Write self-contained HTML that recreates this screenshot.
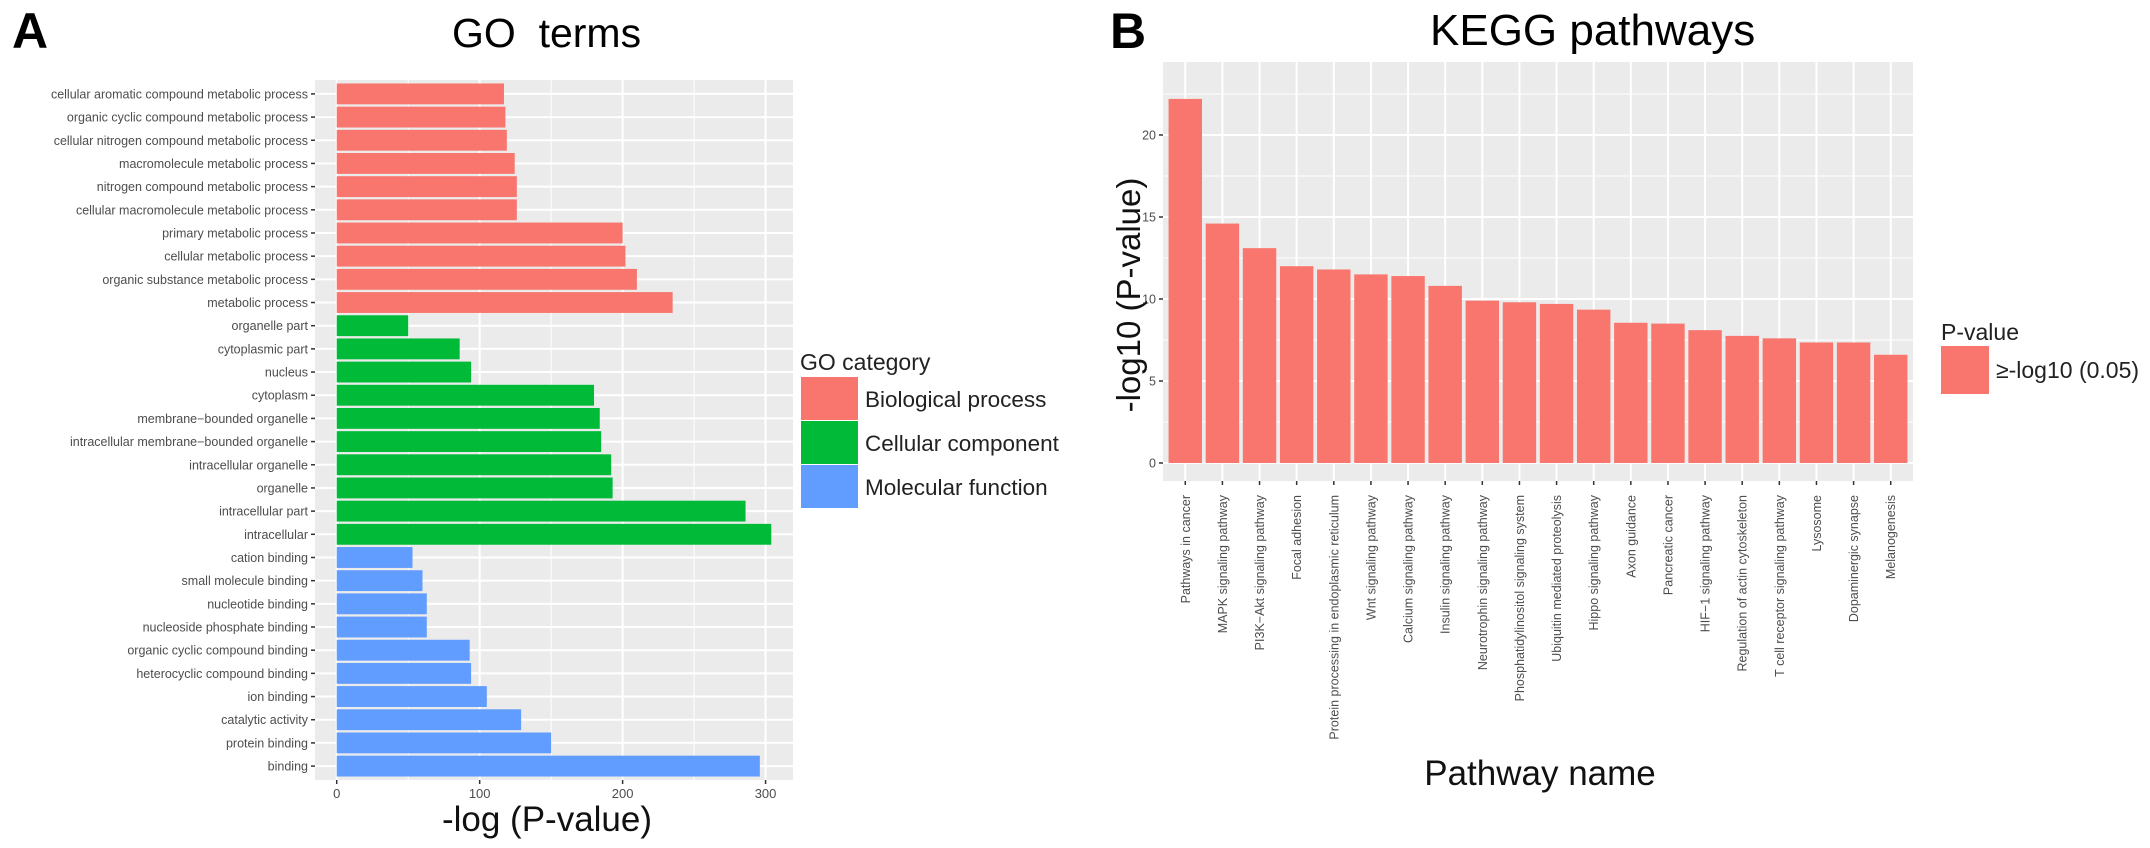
<!DOCTYPE html>
<html><head><meta charset="utf-8"><style>
html,body{margin:0;padding:0;background:#fff;}
svg{display:block;font-family:"Liberation Sans",Arial,sans-serif;}
</style></head><body>
<svg id="chart" width="2150" height="848" viewBox="0 0 2150 848">
<text x="12" y="48" font-size="50" font-weight="bold">A</text>
<text x="452" y="47" font-size="41" xml:space="preserve">GO  terms</text>
<text x="1110" y="48" font-size="50" font-weight="bold">B</text>
<text x="1430" y="45" font-size="44">KEGG pathways</text>
<g id="ga"></g>
<g id="gb"></g>
<g>
<text x="800" y="370" font-size="23" fill="#222">GO category</text>
<rect x="801" y="377" width="57" height="43" fill="#F8766D"/>
<text x="865" y="407" font-size="22.5" fill="#222">Biological process</text>
<rect x="801" y="421" width="57" height="43" fill="#00BA38"/>
<text x="865" y="451" font-size="22.5" fill="#222">Cellular component</text>
<rect x="801" y="465" width="57" height="43" fill="#619CFF"/>
<text x="865" y="495" font-size="22.5" fill="#222">Molecular function</text>
</g>
<g>
<text x="1941" y="340" font-size="23" fill="#222">P-value</text>
<rect x="1941" y="346" width="48" height="48" fill="#F8766D"/>
<text x="1996" y="378" font-size="23" fill="#222">≥-log10 (0.05)</text>
</g>
</svg>
<script>
const goTerms = ["cellular aromatic compound metabolic process","organic cyclic compound metabolic process","cellular nitrogen compound metabolic process","macromolecule metabolic process","nitrogen compound metabolic process","cellular macromolecule metabolic process","primary metabolic process","cellular metabolic process","organic substance metabolic process","metabolic process","organelle part","cytoplasmic part","nucleus","cytoplasm","membrane\u2212bounded organelle","intracellular membrane\u2212bounded organelle","intracellular organelle","organelle","intracellular part","intracellular","cation binding","small molecule binding","nucleotide binding","nucleoside phosphate binding","organic cyclic compound binding","heterocyclic compound binding","ion binding","catalytic activity","protein binding","binding"];
const goValues = [117,118,119,124.5,126,126,200,202,210,235,50,86,94,180,184,185,192,193,286,304,53,60,63,63,93,94,105,129,150,296];
const goCats = ["BP","BP","BP","BP","BP","BP","BP","BP","BP","BP","CC","CC","CC","CC","CC","CC","CC","CC","CC","CC","MF","MF","MF","MF","MF","MF","MF","MF","MF","MF"];
const goTicks = [0,100,200,300];
const keggNames = ["Pathways in cancer","MAPK signaling pathway","PI3K\u2212Akt signaling pathway","Focal adhesion","Protein processing in endoplasmic reticulum","Wnt signaling pathway","Calcium signaling pathway","Insulin signaling pathway","Neurotrophin signaling pathway","Phosphatidylinositol signaling system","Ubiquitin mediated proteolysis","Hippo signaling pathway","Axon guidance","Pancreatic cancer","HIF\u22121 signaling pathway","Regulation of actin cytoskeleton","T cell receptor signaling pathway","Lysosome","Dopaminergic synapse","Melanogenesis"];
const keggValues = [22.2,14.6,13.1,12.0,11.8,11.5,11.4,10.8,9.9,9.8,9.7,9.35,8.55,8.5,8.1,7.75,7.6,7.35,7.35,6.6];
const keggTicks = [0,5,10,15,20];

const NS="http://www.w3.org/2000/svg";
function mk(tag,attrs,parent){const e=document.createElementNS(NS,tag);for(const k in attrs)e.setAttribute(k,attrs[k]);parent.appendChild(e);return e;}
const colors={BP:"#F8766D",CC:"#00BA38",MF:"#619CFF"};

// Panel A
(function(){
  const g=document.getElementById('ga');
  const L=315,R=793,T=80,B=780;
  const lo=-Math.max(...goValues)*0.05, hi=Math.max(...goValues)*1.05;
  const x=v=>L+(v-lo)/(hi-lo)*(R-L);
  const n=goTerms.length;
  const band=(B-T)/(n+0.2);
  const y=i=>T+band*(0.6+i);
  const bg=mk('rect',{x:L,y:T,width:R-L,height:B-T,fill:"#EBEBEB"},g);
  
  
  for(let i=0;i<goTicks.length;i++){
    const t=goTicks[i];
    if(i<goTicks.length-1){const m=(t+goTicks[i+1])/2;if(x(m)<R){const ml=mk('line',{x1:x(m),x2:x(m),y1:T,y2:B,stroke:"#fff","stroke-width":1},g);}}
    const gl=mk('line',{x1:x(t),x2:x(t),y1:T,y2:B,stroke:"#fff","stroke-width":2},g);
    
    
    mk('line',{x1:x(t),x2:x(t),y1:B,y2:B+4,stroke:"#333","stroke-width":1.5},g);
    const tl=mk('text',{x:x(t),y:B+18,"font-size":13,fill:"#4d4d4d","text-anchor":"middle"},g);
    tl.textContent=t;
    
    
  }
  for(let i=0;i<n;i++){
    const yc=y(i);
    const hl=mk('line',{x1:L,x2:R,y1:yc,y2:yc,stroke:"#fff","stroke-width":2},g);
    
    
    const r=mk('rect',{x:x(0),y:yc-band*0.45,width:x(goValues[i])-x(0),height:band*0.9,fill:colors[goCats[i]]},g);
    
    
    mk('line',{x1:L-4,x2:L,y1:yc,y2:yc,stroke:"#333","stroke-width":1.5},g);
    const t=mk('text',{x:L-7,y:yc+4.5,"font-size":12.5,fill:"#4d4d4d","text-anchor":"end"},g);
    t.textContent=goTerms[i];
    
    
  }
  const at=mk('text',{x:547,y:831,"font-size":35,fill:"#111","text-anchor":"middle"},g);
  at.textContent="-log (P-value)";
  
  
})();

// Panel B
(function(){
  const g=document.getElementById('gb');
  const L=1163,R=1913,T=62,B=481;
  const y0=463, unit=16.4;
  const y=v=>y0-v*unit;
  const n=keggNames.length;
  const band=(R-L)/(n+0.2);
  const x=i=>L+band*(0.6+i);
  const bg=mk('rect',{x:L,y:T,width:R-L,height:B-T,fill:"#EBEBEB"},g);
  
  
  for(let i=0;i<keggTicks.length;i++){
    const t=keggTicks[i];
    const m=t+2.5;
    if(y(m)>T){const ml=mk('line',{x1:L,x2:R,y1:y(m),y2:y(m),stroke:"#fff","stroke-width":1},g);}
    const gl=mk('line',{x1:L,x2:R,y1:y(t),y2:y(t),stroke:"#fff","stroke-width":2},g);
    
    
    mk('line',{x1:L-4,x2:L,y1:y(t),y2:y(t),stroke:"#333","stroke-width":1.5},g);
    const tl=mk('text',{x:L-7,y:y(t)+4.5,"font-size":12.5,fill:"#4d4d4d","text-anchor":"end"},g);
    tl.textContent=t;
    
    
  }
  for(let i=0;i<n;i++){
    const xc=x(i);
    const vl=mk('line',{x1:xc,x2:xc,y1:T,y2:B,stroke:"#fff","stroke-width":2},g);
    
    
    const r=mk('rect',{x:xc-band*0.45,y:y(keggValues[i]),width:band*0.9,height:y(0)-y(keggValues[i]),fill:"#F8766D"},g);
    
    
    mk('line',{x1:xc,x2:xc,y1:B,y2:B+4,stroke:"#333","stroke-width":1.5},g);
    const t=mk('text',{x:0,y:0,"font-size":12.5,fill:"#4d4d4d","text-anchor":"end",transform:`translate(${xc+4.5},${B+14}) rotate(-90)`},g);
    t.textContent=keggNames[i];
    
    
  }
  const yt=mk('text',{x:0,y:0,"font-size":33,fill:"#111","text-anchor":"middle",transform:"translate(1140,295) rotate(-90)"},g);
  yt.textContent="-log10 (P-value)";
  
  
  const xt=mk('text',{x:1540,y:785,"font-size":35,fill:"#111","text-anchor":"middle"},g);
  xt.textContent="Pathway name";
  
  
})();
</script>
</body></html>
